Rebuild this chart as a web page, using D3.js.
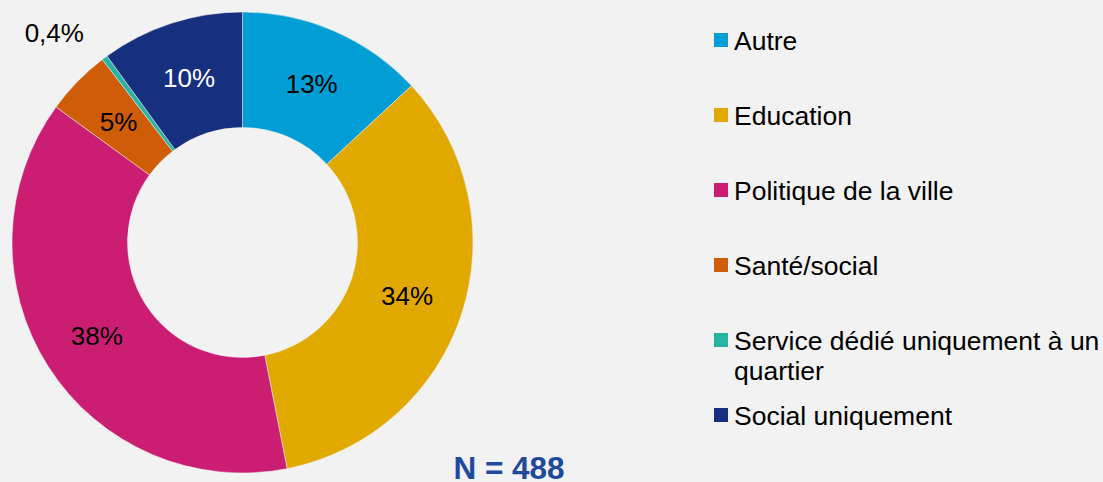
<!DOCTYPE html>
<html>
<head>
<meta charset="utf-8">
<script src="https://cdn.jsdelivr.net/npm/d3@7"></script>
<style>
  body { margin: 0; background: #f2f2f2; }
  svg { display: block; font-family: "Liberation Sans", Arial, sans-serif; }
</style>
</head>
<body>
<svg id="chart" width="1103" height="482"></svg>
<script>
// data
let categories = ['Autre', 'Education', 'Politique de la ville', 'Santé/social', 'Service dédié uniquement à un quartier', 'Social uniquement'];
let values = [13.1, 33.8, 38.1, 4.6, 0.4, 10.0];
let labels = ['13%', '34%', '38%', '5%', '0,4%', '10%'];
let colors = ['#009ed5', '#e1a900', '#cb1e72', '#cf5c07', '#27b4a3', '#162f7f'];
let labelColors = ['#000', '#000', '#000', '#000', '#000', '#fff'];
let legendLines = [['Autre'], ['Education'], ['Politique de la ville'], ['Santé/social'], ['Service dédié uniquement à un', 'quartier'], ['Social uniquement']];
let sampleSize = 488;

let svg = d3.select('#chart');

let cx = 242.5, cy = 242.5;
let outerR = 230.5, innerR = 115;

let pie = d3.pie().sort(null).value(d => d);
let arcs = pie(values);

let arc = d3.arc().innerRadius(innerR).outerRadius(outerR);
let labelArc = d3.arc().innerRadius(173).outerRadius(173);

let g = svg.append('g').attr('transform', `translate(${cx},${cy})`);

g.selectAll('path')
  .data(arcs)
  .enter()
  .append('path')
  .attr('d', arc)
  .attr('fill', (d, i) => colors[i])
  .attr('stroke', '#f2f2f2')
  .attr('stroke-width', 0.5);

// labels: tiny slice gets pushed outside the ring
g.selectAll('text.lbl')
  .data(arcs)
  .enter()
  .append('text')
  .attr('class', 'lbl')
  .attr('transform', (d, i) => {
    let p;
    if (d.endAngle - d.startAngle < 0.05) {
      let a = (d.startAngle + d.endAngle) / 2 - 0.09;
      p = [Math.sin(a) * 282, -Math.cos(a) * 282];
    } else {
      p = labelArc.centroid(d);
    }
    return `translate(${p[0]},${p[1]})`;
  })
  .attr('text-anchor', 'middle')
  .attr('dy', '0.36em')
  .attr('font-size', 26)
  .attr('fill', (d, i) => labelColors[i])
  .text((d, i) => labels[i]);

// legend
let legend = svg.append('g').attr('transform', 'translate(714,40)');
let rowStep = 75;

let rows = legend.selectAll('g')
  .data(categories)
  .enter()
  .append('g')
  .attr('transform', (d, i) => `translate(0,${i * rowStep})`);

rows.append('rect')
  .attr('x', 0)
  .attr('y', -7)
  .attr('width', 14)
  .attr('height', 14)
  .attr('fill', (d, i) => colors[i]);

rows.each(function (d, i) {
  let t = d3.select(this).append('text')
    .attr('x', 20)
    .attr('y', 9.5)
    .attr('font-size', 26.5)
    .attr('fill', '#000');
  legendLines[i].forEach((line, j) => {
    t.append('tspan').attr('x', 20).attr('dy', j === 0 ? 0 : 30).text(line);
  });
});

svg.append('text')
  .attr('x', 509)
  .attr('y', 479)
  .attr('text-anchor', 'middle')
  .attr('font-size', 31.5)
  .attr('font-weight', 'bold')
  .attr('fill', '#1f4a9b')
  .text(`N = ${sampleSize}`);
</script>
</body>
</html>
